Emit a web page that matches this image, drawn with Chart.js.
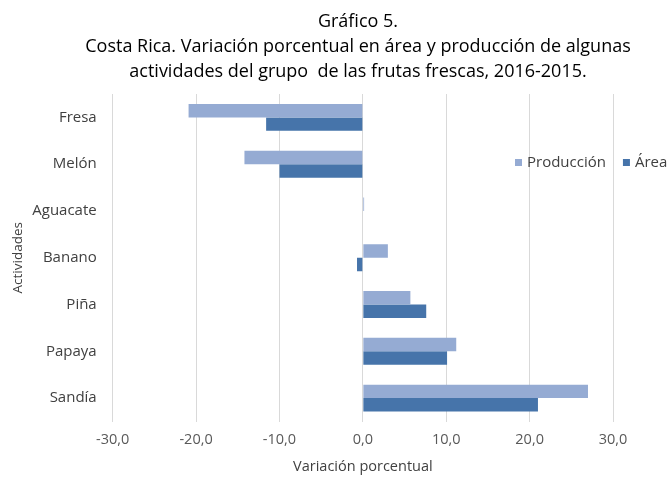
<!DOCTYPE html>
<html><head><meta charset="utf-8">
<script src="https://cdn.jsdelivr.net/npm/chart.js@4"></script>
<style>html,body{margin:0;padding:0;background:#fff}#wrap{width:672px;height:477px;position:relative}</style>
</head><body><div id="wrap"><canvas id="c" width="672" height="477"></canvas></div>
<script>
const categories = ["Fresa", "Melón", "Aguacate", "Banano", "Piña", "Papaya", "Sandía"];
const produccion = [-20.9, -14.2, 0.15, 3.0, 5.7, 11.2, 27.0];
const area = [-11.6, -10.0, 0.0, -0.7, 7.6, 10.1, 21.0];
const seriesNames = ["Producción", "Área"];
const titleLines = ["Gráfico 5.", "Costa Rica. Variación porcentual en área y producción de algunas", "actividades del grupo  de las frutas frescas, 2016-2015."];
const xTitle = "Variación porcentual";
const yTitle = "Actividades";
const colors = ["#95abd3", "#4674aa"];
const FONT = "'Open Sans', sans-serif";

const titlePlugin = {
  id: 'customTitle',
  afterDraw(chart) {
    const ctx = chart.ctx;
    ctx.save();
    ctx.font = "18px " + FONT;
    ctx.textBaseline = 'middle';
    ctx.textAlign = 'center';
    ctx.fillStyle = '#000';
    titleLines.forEach((t, i) => ctx.fillText(t, 358, 22 + i * 25));
    ctx.restore();
  }
};

const legendPlugin = {
  id: 'customLegend',
  afterDraw(chart) {
    const ctx = chart.ctx;
    ctx.save();
    ctx.font = "15px " + FONT;
    ctx.textBaseline = 'middle';
    let x = 515, y = 163;
    chart.data.datasets.forEach((ds, i) => {
      ctx.fillStyle = ds.backgroundColor;
      ctx.fillRect(x, y - 4, 7, 7);
      ctx.fillStyle = '#404040';
      ctx.fillText(ds.label, x + 12, y);
      x += 12 + ctx.measureText(ds.label).width + 17;
    });
    ctx.restore();
  }
};

new Chart(document.getElementById('c'), {
  type: 'bar',
  data: {
    labels: categories,
    datasets: [
      { label: seriesNames[0], data: produccion, backgroundColor: colors[0], categoryPercentage: 0.575, barPercentage: 1.0 },
      { label: seriesNames[1], data: area, backgroundColor: colors[1], categoryPercentage: 0.575, barPercentage: 1.0 }
    ]
  },
  options: {
    indexAxis: 'y',
    responsive: false,
    animation: false,
    layout: { padding: { left: 0, right: 59, top: 94, bottom: 0 } },
    plugins: {
      legend: { display: false },
      tooltip: { enabled: false },
      title: { display: false }
    },
    scales: {
      x: {
        min: -30, max: 30,
        ticks: { stepSize: 10, color: '#595959', font: { family: FONT, size: 14.5 }, padding: 10,
          callback: v => v.toFixed(1).replace('.', ',') },
        grid: { color: '#d9d9d9', drawTicks: false },
        border: { display: false },
        title: { display: true, text: xTitle, color: '#404040', font: { family: FONT, size: 14.5 }, padding: { top: 0, bottom: 1 } },
        afterFit(scale) { scale.height = 55.5; }
      },
      y: {
        ticks: { color: '#404040', font: { family: FONT, size: 15 }, padding: 16 },
        grid: { display: false, drawTicks: false },
        border: { display: false },
        title: { display: true, text: yTitle, color: '#404040', font: { family: FONT, size: 13.5 }, padding: { top: 10, bottom: 0 } },
        afterFit(scale) { scale.width = 112.7; }
      }
    }
  },
  plugins: [titlePlugin, legendPlugin]
});
</script>
</body></html>
